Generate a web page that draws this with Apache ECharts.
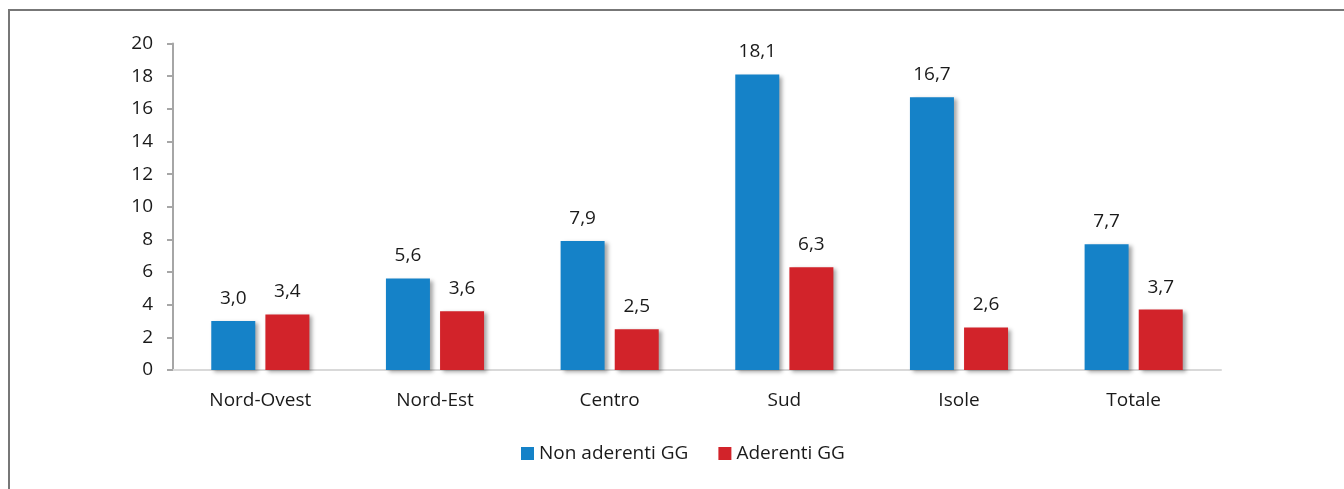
<!DOCTYPE html>
<html>
<head>
<meta charset="utf-8">
<script src="https://cdn.jsdelivr.net/npm/echarts@6/dist/echarts.min.js"></script>
<style>
  html, body { margin: 0; padding: 0; background: #fff; }
  #chart { width: 1344px; height: 489px; }
</style>
</head>
<body>
<div id="chart"></div>
<script>
const categories = ['Nord-Ovest', 'Nord-Est', 'Centro', 'Sud', 'Isole', 'Totale'];
const nonAderenti = [3.0, 5.6, 7.9, 18.1, 16.7, 7.7];
const aderenti = [3.4, 3.6, 2.5, 6.3, 2.6, 3.7];
const seriesNames = ['Non aderenti GG', 'Aderenti GG'];

const FONT = 'Open Sans';
const fmt = v => v.toFixed(1).replace('.', ',');

const myChart = echarts.init(document.getElementById('chart'));

const barStyle = color => ({
    color: color,
    shadowColor: 'rgba(0, 0, 0, 0.35)',
    shadowBlur: 4,
    shadowOffsetX: 3,
    shadowOffsetY: 2
});

const labelStyle = {
    show: true,
    position: 'top',
    distance: 13,
    color: '#1a1a1a',
    fontFamily: FONT,
    fontSize: 19,
    formatter: p => fmt(p.value)
};

const option = {
    animation: false,
    textStyle: { fontFamily: FONT },
    graphic: [{
        type: 'rect',
        shape: { x: 9, y: 10, width: 1400, height: 600 },
        style: { fill: 'none', stroke: '#777', lineWidth: 2 },
        silent: true
    }],
    grid: {
        left: 173,
        right: 123,
        top: 43.5,
        bottom: 119
    },
    legend: {
        data: seriesNames,
        bottom: 21,
        left: 516,
        icon: 'rect',
        itemWidth: 13,
        itemHeight: 13,
        itemGap: 30,
        textStyle: {
            color: '#1a1a1a',
            fontFamily: FONT,
            fontSize: 19
        }
    },
    xAxis: {
        type: 'category',
        data: categories,
        axisLine: { lineStyle: { color: '#d9d9d9', width: 2 } },
        axisTick: { show: false },
        axisLabel: {
            color: '#1a1a1a',
            fontFamily: FONT,
            fontSize: 19,
            margin: 21
        }
    },
    yAxis: {
        type: 'value',
        min: 0,
        max: 20,
        interval: 2,
        splitLine: { show: false },
        axisLine: { show: true, lineStyle: { color: '#a6a6a6', width: 2 } },
        axisTick: { show: true, length: 6, lineStyle: { color: '#a6a6a6', width: 2 } },
        axisLabel: {
            color: '#1a1a1a',
            fontFamily: FONT,
            fontSize: 19,
            margin: 20
        }
    },
    series: [
        {
            name: seriesNames[0],
            type: 'bar',
            data: nonAderenti,
            barWidth: 44,
            barGap: '23%',
            itemStyle: barStyle('#1582c8'),
            label: labelStyle
        },
        {
            name: seriesNames[1],
            type: 'bar',
            data: aderenti,
            barWidth: 44,
            itemStyle: barStyle('#d2232a'),
            label: labelStyle
        }
    ]
};

myChart.setOption(option);
</script>
</body>
</html>
